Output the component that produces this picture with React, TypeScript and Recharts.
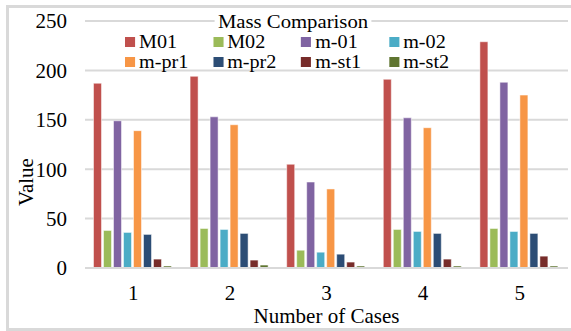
import { BarChart, Bar, XAxis, YAxis, CartesianGrid, Legend } from 'recharts';

const categories = ['1', '2', '3', '4', '5'];
const seriesNames = ['M01', 'M02', 'm-01', 'm-02', 'm-pr1', 'm-pr2', 'm-st1', 'm-st2'];
const seriesColors = ['#C0504D', '#9BBB59', '#8064A2', '#4BACC6', '#F79646', '#2C4D75', '#772C2A', '#5F7530'];

const M01 = [187, 194, 105, 191, 229];
const M02 = [38, 40, 18, 39, 40];
const m01 = [149, 153, 87, 152, 188];
const m02 = [36, 39, 16, 37, 37];
const mpr1 = [139, 145, 80, 142, 175];
const mpr2 = [34, 35, 14, 35, 35];
const mst1 = [9, 8, 6, 9, 12];
const mst2 = [2, 3, 2, 2, 2];

const yTicks = [0, 50, 100, 150, 200, 250];

const seriesValues = [M01, M02, m01, m02, mpr1, mpr2, mst1, mst2];

const data = categories.map((c, i) => {
  const row: Record<string, string | number> = { name: c };
  seriesNames.forEach((s, k) => {
    row[s] = seriesValues[k][i];
  });
  return row;
});

const FONT = '"Liberation Serif", "Times New Roman", serif';

// legend text in the picture is a little wider than plain Times, so stretch it
const STRETCH = 1.12;

function LegendBox() {
  return (
    <div style={{ fontFamily: FONT, color: '#000', width: 316, transform: `scaleX(${STRETCH})`, transformOrigin: '0 0' }}>
      <div style={{ width: 300, textAlign: 'center', fontSize: 18.5, lineHeight: '20px', height: 20 }}>
        <span style={{ background: '#fff', padding: '0 3px' }}>Mass Comparison</span>
      </div>
      <div style={{ display: 'grid', gridTemplateColumns: 'repeat(4, 78.6px)' }}>
        {seriesNames.map((s, i) => (
          <div key={s} style={{ display: 'flex', alignItems: 'center', fontSize: 18, lineHeight: '20px', height: 20 }}>
            <span style={{ width: 9, height: 10, background: seriesColors[i], marginRight: 3.6, flex: 'none' }} />
            <span>{s}</span>
          </div>
        ))}
      </div>
    </div>
  );
}

export default function App() {
  return (
    <div style={{ position: 'absolute', left: 0, top: 0, width: 571, height: 331, overflow: 'hidden', background: '#fff' }}>
      <div
        style={{
          position: 'absolute',
          left: 6,
          top: 5,
          width: 600,
          height: 326,
          boxSizing: 'border-box',
          borderTop: '3px solid #d9d9d9',
          borderLeft: '3px solid #d9d9d9',
          borderBottom: '3px solid #d9d9d9',
        }}
      />
      <div style={{ position: 'absolute', left: 0, top: 0 }}>
        <BarChart
          width={571}
          height={331}
          data={data}
          margin={{ top: 21, right: 3, bottom: 0, left: 0 }}
          barCategoryGap={8.5}
          barGap={2}
        >
          <CartesianGrid vertical={false} stroke="#d9d9d9" strokeWidth={2} />
          <XAxis
            dataKey="name"
            height={63}
            tickSize={0}
            tickMargin={17}
            axisLine={{ stroke: '#d9d9d9', strokeWidth: 2 }}
            tick={{ fontFamily: FONT, fontSize: 21, fill: '#000' }}
            label={{ value: 'Number of Cases', position: 'insideBottom', offset: 8, fontFamily: FONT, fontSize: 21, fill: '#000' }}
          />
          <YAxis
            width={85}
            domain={[0, 250]}
            ticks={yTicks}
            tickSize={0}
            tickMargin={18}
            axisLine={false}
            tick={{ fontFamily: FONT, fontSize: 21, fill: '#000' }}
            label={{
              content: () => (
                <text
                  x={26}
                  y={182}
                  transform="rotate(-90 26 182)"
                  textAnchor="middle"
                  dominantBaseline="central"
                  fontFamily={FONT}
                  fontSize={21}
                  fill="#000"
                >
                  Value
                </text>
              ),
            }}
          />
          <Legend
            layout="vertical"
            align="center"
            verticalAlign="middle"
            wrapperStyle={{ left: 125, top: 12, width: 360 }}
            content={() => <LegendBox />}
          />
          {seriesNames.map((s, i) => (
            <Bar
              key={s}
              dataKey={s}
              fill={seriesColors[i]}
              stroke="#ffffff"
              strokeOpacity={0.5}
              strokeWidth={1}
              isAnimationActive={false}
            />
          ))}
        </BarChart>
      </div>
    </div>
  );
}
